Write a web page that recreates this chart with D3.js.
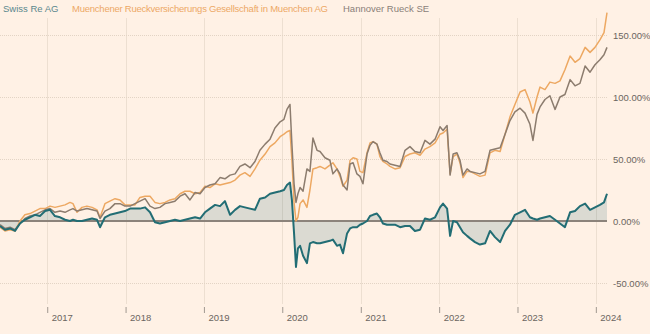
<!DOCTYPE html>
<html>
<head>
<meta charset="utf-8">
<script src="https://cdn.jsdelivr.net/npm/d3@7"></script>
<style>
    body { margin: 0; background: #fff1e5; }
    svg { display: block; font-family: "Liberation Sans", Arial, sans-serif; }
    .axis text { fill: #6b6560; font-size: 9.5px; }
    .axis .domain { display: none; }
</style>
</head>
<body>
<script>

var dates = [
    "2016-05-26","2016-06-18","2016-07-12","2016-08-04","2016-08-27","2016-09-19","2016-10-13","2016-11-05","2016-11-28","2016-12-22",
    "2017-01-14","2017-02-06","2017-03-02","2017-03-25","2017-04-17","2017-05-01","2017-05-20","2017-06-12","2017-07-05","2017-07-29",
    "2017-08-21","2017-09-04","2017-09-27","2017-10-20","2017-11-13","2017-12-06","2017-12-29","2018-01-22","2018-02-14","2018-03-09",
    "2018-04-02","2018-04-25","2018-05-18","2018-06-10","2018-07-04","2018-07-27","2018-08-19","2018-09-12","2018-10-05","2018-10-28",
    "2018-11-21","2018-12-14","2019-01-06","2019-01-29","2019-02-22","2019-03-17","2019-04-09","2019-05-03","2019-05-26","2019-06-18",
    "2019-07-11","2019-08-04","2019-08-27","2019-09-19","2019-10-13","2019-11-05","2019-11-28","2019-12-22","2020-01-09","2020-01-23",
    "2020-02-06","2020-02-15","2020-02-25","2020-03-05","2020-03-14","2020-03-24","2020-04-07","2020-04-25","2020-05-09","2020-05-23",
    "2020-06-11","2020-06-25","2020-07-18","2020-08-10","2020-08-24","2020-09-12","2020-09-26","2020-10-10","2020-10-29","2020-11-12",
    "2020-11-26","2020-12-14","2020-12-28","2021-01-11","2021-01-30","2021-02-13","2021-02-27","2021-03-17","2021-03-31","2021-04-14",
    "2021-05-03","2021-05-17","2021-06-09","2021-07-03","2021-07-26","2021-08-18","2021-09-10","2021-10-04","2021-10-27","2021-11-19",
    "2021-12-13","2022-01-05","2022-01-19","2022-02-07","2022-02-21","2022-03-07","2022-03-25","2022-04-08","2022-04-22","2022-05-11",
    "2022-05-25","2022-06-17","2022-07-10","2022-08-03","2022-08-26","2022-09-18","2022-10-12","2022-11-04","2022-11-27","2022-12-20",
    "2023-01-13","2023-02-05","2023-02-28","2023-03-14","2023-04-02","2023-04-16","2023-05-09","2023-06-01","2023-06-25","2023-07-18",
    "2023-08-10","2023-09-03","2023-09-26","2023-10-19","2023-11-12","2023-12-05","2023-12-28","2024-01-20","2024-02-08","2024-02-22"
];

// percentage change since start
var swissRe = [
    -4,-7,-6,-8,-2,1,3,5,4,8,
    9,4,3,1,0,1,0,0,1,2,
    1,-5,3,5,6,7,8,10,10,10,
    11,7,-1,-2,-1,0,1,0,1,2,
    3,2,7,10,13,12,16,5,9,12,
    11,10,9,18,19,22,23,24,25,29,
    31,17,-10,-37,-22,-20,-28,-34,-18,-17,
    -18,-18,-17,-16,-15,-20,-19,-26,-10,-6,
    -5,-5,-3,-2,0,4,5,6,3,-2,
    -3,-3,-3,-5,-4,-4,-8,-7,2,1,
    3,11,14,10,-12,0,-1,-5,-9,-12,
    -14,-17,-19,-18,-8,-13,-17,-8,-3,5,
    7,9,3,2,1,2,3,4,1,-2,
    -5,7,8,12,14,9,11,13,15,22
];

var munichRe = [
    -5,-8,-7,-8,0,5,6,8,10,10,
    12,11,12,13,15,14,7,11,12,11,
    9,3,14,16,18,17,13,13,13,19,
    20,20,15,14,15,17,18,22,24,24,
    22,23,28,27,30,29,30,31,33,37,
    39,36,42,49,54,60,63,68,70,72,
    73,49,15,0,3,14,17,11,25,42,
    43,44,42,45,47,42,36,28,33,49,
    51,50,40,39,55,63,64,62,52,48,
    46,44,42,43,52,54,55,53,58,60,
    63,70,71,74,38,52,54,47,35,40,
    40,38,36,37,55,57,56,70,84,94,
    104,106,96,87,100,108,106,112,111,113,
    122,133,128,131,140,136,140,146,152,168
];

var hannoverRe = [
    -3,-6,-5,-7,-2,2,4,5,7,9,
    10,7,8,7,9,10,8,9,10,9,
    8,2,8,10,14,14,12,12,14,16,
    18,12,10,11,14,15,16,20,22,17,
    23,22,27,29,30,35,34,37,38,44,
    46,43,48,57,62,66,75,80,82,90,
    94,62,30,15,22,27,24,42,40,67,
    57,56,51,49,38,42,38,29,25,46,
    47,38,36,30,54,61,64,62,55,49,
    48,46,45,44,57,60,56,55,65,62,
    66,76,73,77,37,54,55,49,37,42,
    40,39,38,40,57,58,59,70,81,88,
    91,87,78,65,86,92,98,101,90,100,
    102,114,109,111,125,120,126,130,134,140
];

var seriesNames = ["Swiss Re AG", "Muenchener Rueckversicherungs Gesellschaft in Muenchen AG", "Hannover Rueck SE"];
var seriesColors = ["#226d74", "#eda862", "#8c7c6e"];
var legendColors = ["#5a878d", "#eda866", "#8a8079"];
var yTicks = [-50, 0, 50, 100, 150];

var width = 650, height = 334;
var legendX = [3, 72, 343];
var parseDate = d3.timeParse("%Y-%m-%d");

var data = dates.map(function (d, i) {
    return {date: parseDate(d), swiss: swissRe[i], munich: munichRe[i], hannover: hannoverRe[i]};
});

var xScale = d3.scaleTime()
    .domain(d3.extent(data, function (d) { return d.date; }))
    .range([0, 607]);

var yScale = d3.scaleLinear()
    .domain([-50, 150])
    .range([283, 35]);

var svg = d3.select("body").append("svg")
    .attr("width", width)
    .attr("height", height);

svg.append("rect").attr("width", width).attr("height", height).attr("fill", "#fff1e5");

// vertical grid
var years = xScale.ticks(d3.timeYear.every(1));
svg.append("g").selectAll("line")
    .data(years)
    .enter().append("line")
    .attr("x1", function (d) { return Math.round(xScale(d)) + 0.5; })
    .attr("x2", function (d) { return Math.round(xScale(d)) + 0.5; })
    .attr("y1", 18)
    .attr("y2", 304)
    .attr("stroke", "#eddfd1")
    .attr("stroke-width", 1);

// horizontal grid
svg.append("g").selectAll("line")
    .data(yTicks.filter(function (d) { return d !== 0; }))
    .enter().append("line")
    .attr("x1", 0)
    .attr("x2", 608)
    .attr("y1", function (d) { return Math.round(yScale(d)) + 0.5; })
    .attr("y2", function (d) { return Math.round(yScale(d)) + 0.5; })
    .attr("stroke", "#e3d4c5")
    .attr("stroke-dasharray", "1,1");

// area between Swiss Re and zero
var area = d3.area()
    .x(function (d) { return xScale(d.date); })
    .y0(yScale(0))
    .y1(function (d) { return yScale(d.swiss); });

svg.append("path")
    .datum(data)
    .attr("d", area)
    .attr("fill", "#0f5a64")
    .attr("fill-opacity", 0.15);

svg.append("line")
    .attr("x1", 0)
    .attr("x2", 607)
    .attr("y1", yScale(0))
    .attr("y2", yScale(0))
    .attr("stroke", "#8c837b")
    .attr("stroke-width", 2);

function makeLine(key) {
    return d3.line()
        .x(function (d) { return xScale(d.date); })
        .y(function (d) { return yScale(d[key]); });
}

svg.append("path")
    .datum(data)
    .attr("d", makeLine("munich"))
    .attr("fill", "none")
    .attr("stroke", seriesColors[1])
    .attr("stroke-width", 1.5)
    .attr("stroke-linejoin", "round");

svg.append("path")
    .datum(data)
    .attr("d", makeLine("hannover"))
    .attr("fill", "none")
    .attr("stroke", seriesColors[2])
    .attr("stroke-width", 1.5)
    .attr("stroke-linejoin", "round");

svg.append("path")
    .datum(data)
    .attr("d", makeLine("swiss"))
    .attr("fill", "none")
    .attr("stroke", seriesColors[0])
    .attr("stroke-width", 2)
    .attr("stroke-linejoin", "round");

// y axis on the right
var yAxis = d3.axisRight(yScale)
    .tickValues(yTicks)
    .tickSize(0)
    .tickPadding(0)
    .tickFormat(function (d) { return d.toFixed(2) + "%"; });

svg.append("g")
    .attr("class", "axis y")
    .attr("transform", "translate(613,0)")
    .call(yAxis);

// x axis
var xAxis = d3.axisBottom(xScale)
    .ticks(d3.timeYear.every(1))
    .tickSize(6)
    .tickFormat(d3.timeFormat("%Y"));

var xg = svg.append("g")
    .attr("class", "axis x")
    .attr("transform", "translate(0,307)")
    .call(xAxis);

xg.selectAll(".tick line").attr("stroke", "#a09890");
xg.selectAll(".tick text")
    .attr("text-anchor", "start")
    .attr("x", 4)
    .attr("y", 7);

// legend
svg.append("g").selectAll("text")
    .data(seriesNames)
    .enter().append("text")
    .attr("x", function (d, i) { return legendX[i]; })
    .attr("y", 12)
    .attr("font-size", "9.5px")
    .attr("fill", function (d, i) { return legendColors[i]; })
    .attr("textLength", function (d, i) { return i === 1 ? 256 : null; })
    .text(function (d) { return d; });

</script>
</body>
</html>
